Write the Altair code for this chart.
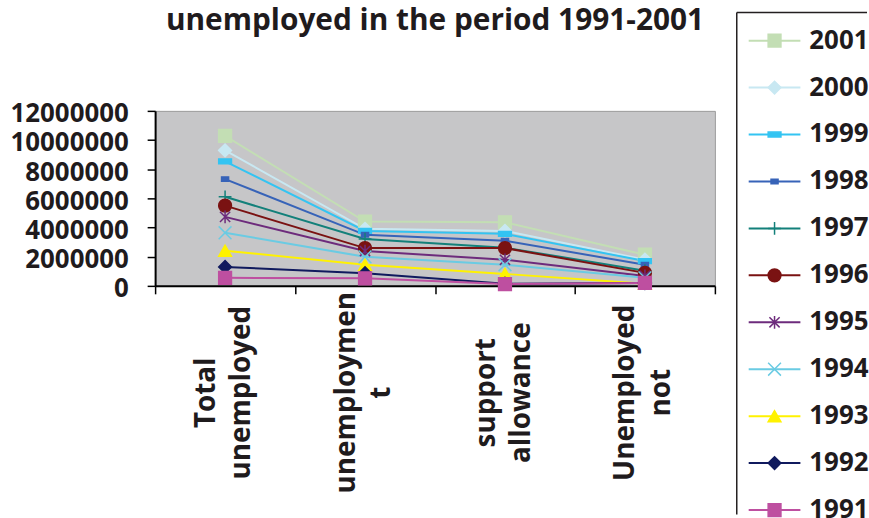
import altair as alt
import pandas as pd

# ---------------- data ----------------
categories = ["Total unemployed", "unemploymen t", "support allowance", "Unemployed not"]
years = ["2001", "2000", "1999", "1998", "1997", "1996", "1995", "1994", "1993", "1992", "1991"]

v2001 = [10280000, 4410000, 4360000, 2140000]
v2000 = [9290000, 3910000, 3770000, 1800000]
v1999 = [8540000, 3770000, 3570000, 1700000]
v1998 = [7320000, 3500000, 3090000, 1450000]
v1997 = [6110000, 3210000, 2620000, 1040000]
v1996 = [5500000, 2590000, 2590000, 890000]
v1995 = [4730000, 2390000, 1790000, 680000]
v1994 = [3640000, 1990000, 1450000, 550000]
v1993 = [2410000, 1450000, 820000, 140000]
v1992 = [1300000, 870000, 150000, 200000]
v1991 = [550000, 520000, 120000, 200000]

y_ticks = [0, 2000000, 4000000, 6000000, 8000000, 10000000, 12000000]

# ---------------- styles ----------------
FONT = "Open Sans"
TXT = "#1F1B1D"
colors = ["#C3DEB4", "#C8E8F2", "#33C4F2", "#3763B8", "#13807A", "#7A1212",
          "#6D2B7C", "#6ACBE3", "#FFF200", "#101A5E", "#BE4FA0"]
DASH = "M-1,-0.38H1V0.38H-1Z"
SMALLDASH = "M-0.55,-0.35H0.55V0.35H-0.55Z"
PLUS = "M-1,0H1M0,-1V1"
STAR = "M-0.8,-0.8L0.8,0.8M-0.8,0.8L0.8,-0.8M0,-1V1"
XMARK = "M-1,-1L1,1M-1,1L1,-1"
shapes = ["square", "diamond", DASH, SMALLDASH, PLUS, "circle", STAR, XMARK,
          "triangle-up", "diamond", "square"]
sizes = [165, 165, 150, 150, 110, 150, 110, 90, 170, 140, 140]

series = [v2001, v2000, v1999, v1998, v1997, v1996, v1995, v1994, v1993, v1992, v1991]
rows = []
for yr, vals in zip(years, series):
    for c, v in zip(categories, vals):
        rows.append({"year": yr, "category": c, "value": v})
df = pd.DataFrame(rows)

color_scale = alt.Scale(domain=years, range=colors)
shape_scale = alt.Scale(domain=years, range=shapes)
size_scale = alt.Scale(domain=years, range=sizes)

x_enc = alt.X(
    "category:N", sort=categories,
    scale=alt.Scale(type="band", paddingInner=0, paddingOuter=0),
    axis=alt.Axis(title=None, labelAngle=-90, labelAlign="center", labelBaseline="middle",
                  labelExpr="split(datum.label, ' ')", labelFont=FONT, labelFontSize=28,
                  labelFontWeight="bold", labelColor=TXT, labelLineHeight=36,
                  labelPadding=99, labelOffset=-19, labelLimit=400, tickBand="extent",
                  tickSize=8, tickColor="black", tickWidth=1.5, domainColor="black",
                  domainWidth=2),
)
y_enc = alt.Y(
    "value:Q", scale=alt.Scale(domain=[0, 12000000], nice=False),
    axis=alt.Axis(title=None, values=y_ticks, format="d", grid=False, labelFont=FONT,
                  labelFontSize=26, labelFontWeight="bold", labelColor=TXT, labelPadding=19,
                  labelOffset=3, tickSize=8, tickColor="black", tickWidth=1.5,
                  domainColor="black", domainWidth=2),
)

lines = alt.Chart(df).mark_line(strokeWidth=2).encode(
    x=x_enc, y=y_enc,
    color=alt.Color("year:N", scale=color_scale, legend=None),
)
points = alt.Chart(df).mark_point(filled=True, opacity=1, strokeWidth=1.5).encode(
    x=x_enc, y=y_enc,
    shape=alt.Shape("year:N", scale=shape_scale, legend=None),
    fill=alt.Fill("year:N", scale=color_scale, legend=None),
    stroke=alt.Stroke("year:N", scale=color_scale, legend=None),
    size=alt.Size("year:N", scale=size_scale, legend=None),
)

main = alt.layer(lines, points).properties(
    width=563, height=176,
    view=alt.ViewBackground(fill="#C6C6C8", stroke="#9A9A9A", strokeWidth=1),
    title=alt.TitleParams("unemployed in the period 1991-2001", font=FONT, fontSize=30,
                          fontWeight="bold", color=TXT, anchor="middle", offset=65),
)

# ---------------- custom legend (view top aligned with plot top) ----------------
LW, LH = 132, 406
leg_df = pd.DataFrame({"year": years, "idx": list(range(len(years)))})
leg_y = alt.Y("idx:Q", scale=alt.Scale(domain=[1.496, 10.096], reverse=True), axis=None)

leg_lines = alt.Chart(leg_df).mark_rule(strokeWidth=2).encode(
    x=alt.value(13), x2=alt.value(65), y=leg_y,
    color=alt.Color("year:N", scale=color_scale, legend=None),
)
leg_pts = alt.Chart(leg_df).mark_point(filled=True, opacity=1, strokeWidth=1.5).encode(
    x=alt.value(39), y=leg_y,
    shape=alt.Shape("year:N", scale=shape_scale, legend=None),
    fill=alt.Fill("year:N", scale=color_scale, legend=None),
    stroke=alt.Stroke("year:N", scale=color_scale, legend=None),
    size=alt.Size("year:N", scale=size_scale, legend=None),
)
leg_txt = alt.Chart(leg_df).mark_text(align="left", baseline="middle", font=FONT, fontSize=26,
                                      fontWeight="bold", color=TXT).encode(
    x=alt.value(74), y=leg_y, text="year:N",
)
one = pd.DataFrame({"a": [0]})
box_left = alt.Chart(one).mark_rule(color="#231F20", strokeWidth=1.5).encode(
    x=alt.value(1), y=alt.value(-99), y2=alt.value(LH))
box_top = alt.Chart(one).mark_rule(color="#231F20", strokeWidth=1.5).encode(
    x=alt.value(1), x2=alt.value(LW), y=alt.value(-99))

legend = alt.layer(box_left, box_top, leg_lines, leg_pts, leg_txt).properties(
    width=LW, height=LH,
    view=alt.ViewBackground(fill=None, stroke=None),
)

chart = alt.hconcat(main, legend, spacing=19).properties(
    padding={"left": 9, "top": 4, "right": 0, "bottom": 0},
    background="white",
).configure_view(stroke=None)

chart.save("out.html", embed_options={"renderer": "svg", "actions": False})
